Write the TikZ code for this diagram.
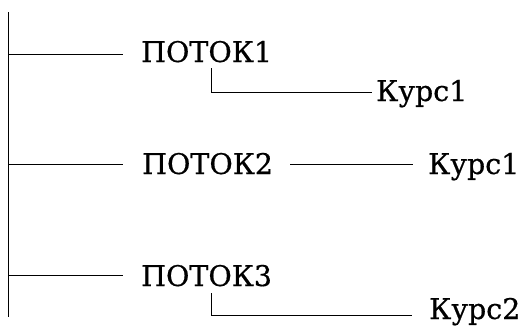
\documentclass[tikz,border=0pt]{standalone}
\usepackage{fontspec}
\setmainfont{DejaVu Serif}
\newfontfamily\lblfont{DejaVu Serif}[FakeBold=0.6]
\begin{document}
\begin{tikzpicture}[x=1pt,y=-1pt,
  lbl/.style={inner sep=0pt,anchor=base west,font=\lblfont\fontsize{28.5}{32}\selectfont},
  conn/.style={line width=1pt,draw=black}]
\useasboundingbox (0,0) rectangle (523,327);
% trunk
\coordinate (ttop) at (8,12);
\coordinate (tbot) at (8,317);
\draw[conn] (ttop) -- (tbot);
% labels
\node[lbl] (p1) at (141,62) {ПОТОК1};
\node[lbl] (p2) at (142,174) {ПОТОК2};
\node[lbl] (p3) at (141,286) {ПОТОК3};
\node[lbl] (k1) at (376,101) {Курс1};
\node[lbl] (k2) at (428,174) {Курс1};
\node[lbl] (k3) at (429,319) {Курс2};
% branch points
\coordinate (b1) at (8,54);
\coordinate (b2) at (8,164);
\coordinate (b3) at (8,275);
\coordinate (e1) at (123,54);
\coordinate (e2) at (123,164);
\coordinate (e3) at (123,275);
\draw[conn] (b1) -- (e1);
\draw[conn] (b2) -- (e2);
\draw[conn] (b3) -- (e3);
% sub branches
\coordinate (s1) at (211,68);
\coordinate (c1) at (211,92);
\coordinate (f1) at (372,92);
\draw[conn] (s1) -- (c1) -- (f1);
\coordinate (s2) at (290,164);
\coordinate (f2) at (413,164);
\draw[conn] (s2) -- (f2);
\coordinate (s3) at (211,293);
\coordinate (c3) at (211,315);
\coordinate (f3) at (412,315);
\draw[conn] (s3) -- (c3) -- (f3);
\end{tikzpicture}
\end{document}
